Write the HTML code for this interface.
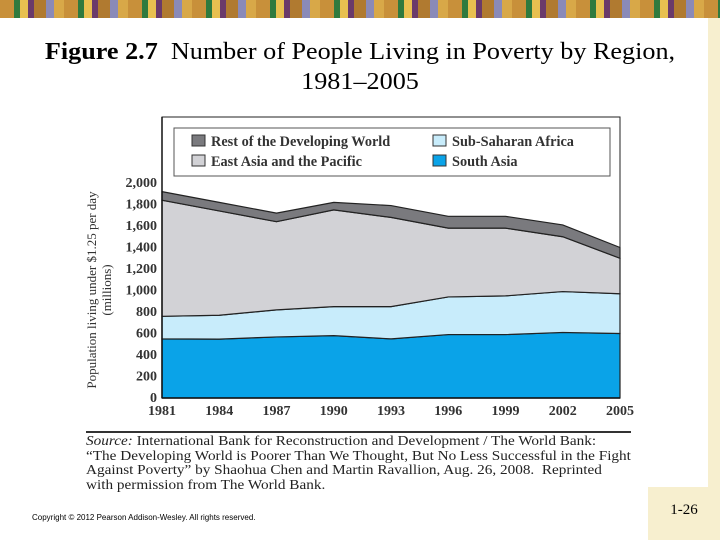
<!DOCTYPE html>
<html><head><meta charset="utf-8"><style>
body{margin:0;width:720px;height:540px;overflow:hidden;background:#fff;position:relative;font-family:"Liberation Serif",serif}
.abs{position:absolute}
</style></head><body>
<div class="abs" style="left:0;top:0;width:720px;height:18px;background:repeating-linear-gradient(90deg,#c8903a 0 14px,#2f7a3e 14px 20px,#e8c050 20px 28px,#6a3a6a 28px 34px,#b07a30 34px 46px,#8a8ab8 46px 54px,#d8a848 54px 64px)"></div>
<div class="abs" style="left:708px;top:18px;width:12px;height:470px;background:#f7efcf"></div>
<div class="abs" style="left:648px;top:487px;width:72px;height:53px;background:#f7efcf"></div>
<div class="abs" style="left:648px;top:502px;width:72px;text-align:center;font-size:15px">1-26</div>
<div class="abs" style="left:0;top:37px;width:720px;text-align:center;font-size:24px;line-height:30px;transform:scaleX(1.09);transform-origin:360px 0"><b>Figure 2.7</b>&nbsp; Number of People Living in Poverty by Region,<br>1981–2005</div>
<svg class="abs" style="left:0;top:0" width="720" height="540">
<g id="plot"></g>
</svg>
<div class="abs" style="left:86px;top:434px;font-size:13.6px;line-height:14.7px;color:#222;white-space:nowrap;transform:scaleX(1.12);transform-origin:0 0"><i>Source:</i> International Bank for Reconstruction and Development / The World Bank:<br>“The Developing World is Poorer Than We Thought, But No Less Successful in the Fight<br>Against Poverty” by Shaohua Chen and Martin Ravallion, Aug. 26, 2008.&nbsp; Reprinted<br>with permission from The World Bank.</div>
<div class="abs" style="left:32px;top:513px;font-family:'Liberation Sans',sans-serif;font-size:8px">Copyright © 2012 Pearson Addison-Wesley. All rights reserved.</div>
<script>
const years=[1981,1984,1987,1990,1993,1996,1999,2002,2005];
const southAsia=[550,548,568,580,550,590,590,610,600];
const subSaharan=[210,222,252,270,300,350,360,380,370];
const eastAsia=[1080,970,820,900,830,640,630,510,330];
const restWorld=[80,80,80,70,110,110,110,110,100];
const yTicks=[0,200,400,600,800,1000,1200,1400,1600,1800,2000];
const NS='http://www.w3.org/2000/svg';
const g=document.getElementById('plot');
const X0=162,X1=620,Y0=398,Y2000=183;
const xs=y=>X0+(y-1981)/(2005-1981)*(X1-X0);
const ys=v=>Y0-v/2000*(Y0-Y2000);
function mk(t,a){const e=document.createElementNS(NS,t);for(const k in a)e.setAttribute(k,a[k]);g.appendChild(e);return e;}
const fr=mk('rect',{x:X0,y:117,width:X1-X0,height:Y0-117,fill:'#fff',stroke:'#222','stroke-width':1});


const series=[[southAsia,'#0aa3e8','south-asia-area'],[subSaharan,'#c8ecfb','sub-saharan-africa-area'],[eastAsia,'#d2d2d6','east-asia-pacific-area'],[restWorld,'#7a7a7e','rest-of-world-area']];
let base=years.map(()=>0);
series.forEach(([vals,col,name])=>{
 const top=base.map((b,i)=>b+vals[i]);
 let d='M'+years.map((y,i)=>xs(y)+','+ys(top[i])).join('L');
 for(let i=years.length-1;i>=0;i--)d+='L'+xs(years[i])+','+ys(base[i]);
 const p=mk('path',{d:d+'Z',fill:col,stroke:'#222','stroke-width':1.2});
 
 
 base=top;
});
mk('line',{x1:X0,y1:117,x2:X0,y2:Y0,stroke:'#111','stroke-width':1.5});
mk('line',{x1:X0,y1:Y0,x2:X1,y2:Y0,stroke:'#111','stroke-width':1.5});
yTicks.forEach(v=>{const t=mk('text',{x:157,y:ys(v)+4,'text-anchor':'end','font-size':14,'font-family':'Liberation Serif','font-weight':'bold',fill:'#333'});t.textContent=v.toLocaleString('en-US');

});
years.forEach(y=>{const t=mk('text',{x:xs(y),y:415,'text-anchor':'middle','font-size':14,'font-family':'Liberation Serif','font-weight':'bold',fill:'#333'});t.textContent=y;

});
const yt=mk('text',{transform:'translate(96,290) rotate(-90)','text-anchor':'middle','font-size':13,'font-family':'Liberation Serif',fill:'#333'});


yt.innerHTML='<tspan x="0" dy="0">Population living under $1.25 per day</tspan><tspan x="0" dy="15">(millions)</tspan>';
const lb=mk('rect',{x:174,y:128,width:436,height:48,fill:'#fff',stroke:'#555','stroke-width':1});


const leg=[['Rest of the Developing World','#7a7a7e',192,141],['East Asia and the Pacific','#d2d2d6',192,161],['Sub-Saharan Africa','#c8ecfb',433,141],['South Asia','#0aa3e8',433,161]];
leg.forEach(([lab,col,x,y])=>{
 const r=mk('rect',{x:x,y:y-6,width:13,height:11,fill:col,stroke:'#333','stroke-width':1});
 
 
 const t=mk('text',{x:x+19,y:y+5,'font-size':14.3,'font-family':'Liberation Serif','font-weight':'bold',fill:'#333'});t.textContent=lab;
 
 
});
const sl=mk('line',{x1:86,y1:432,x2:631,y2:432,stroke:'#333','stroke-width':2});


</script>
</body></html>
